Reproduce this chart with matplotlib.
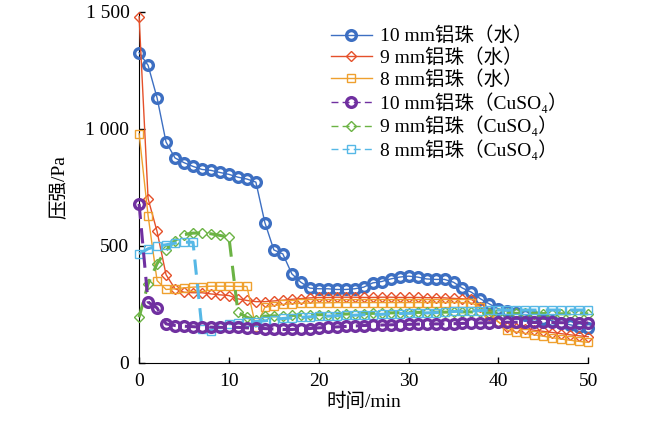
import matplotlib
matplotlib.use("Agg")
import matplotlib.pyplot as plt
from matplotlib.ticker import FuncFormatter

plt.rcParams['font.family'] = ['Liberation Serif', 'Noto Sans CJK SC', 'DejaVu Serif']

# time in minutes
t = list(range(0, 51))

# 10 mm aluminium beads, water
p10_water = [1326, 1272, 1133, 944, 876, 856, 840, 827, 823, 814,
             806, 794, 786, 773, 600, 483, 466, 381, 345, 320,
             317, 317, 314, 314, 317, 324, 342, 348, 359, 367,
             371, 367, 359, 357, 357, 345, 320, 302, 274, 252,
             231, 222, 214, 205, 196, 188, 180, 172, 163, 155, 148]
# 9 mm, water
p9_water = [1480, 702, 562, 377, 317, 302, 300, 300, 295, 291,
            288, 274, 267, 262, 262, 265, 268, 272, 275, 278,
            280, 280, 281, 281, 281, 280, 280, 281, 281, 280,
            280, 280, 279, 279, 278, 276, 274, 272, 240, 205,
            175, 155, 150, 145, 140, 135, 130, 125, 120, 116, 112]
# 8 mm, water
p8_water = [980, 630, 352, 314, 317, 321, 324, 326, 328, 328,
            328, 327, 327, 153, 238, 245, 250, 253, 255, 256,
            257, 257, 258, 258, 258, 258, 258, 258, 258, 258,
            258, 258, 258, 258, 258, 258, 258, 256, 240, 205,
            175, 140, 132, 126, 120, 114, 108, 102, 97, 92, 88]
# 10 mm, CuSO4
p10_cuso4 = [680, 260, 235, 167, 160, 157, 155, 153, 153, 152,
             152, 152, 150, 148, 147, 145, 143, 143, 145, 147,
             150, 152, 154, 156, 158, 160, 161, 162, 163, 164,
             165, 166, 166, 167, 167, 168, 169, 170, 171, 172,
             173, 174, 174, 174, 173, 173, 173, 172, 172, 172, 171]
# 9 mm, CuSO4
p9_cuso4 = [195, 338, 424, 481, 523, 548, 555, 555, 552, 545,
            538, 217, 195, 185, 200, 201, 202, 203, 204, 205,
            206, 207, 208, 209, 210, 211, 212, 213, 214, 214,
            215, 216, 216, 217, 217, 218, 218, 218, 216, 214,
            213, 212, 212, 212, 211, 211, 211, 210, 210, 210, 210]
# 8 mm, CuSO4
p8_cuso4 = [466, 488, 499, 505, 512, 516, 516, 146, 138, 160,
            167, 171, 174, 177, 180, 185, 190, 193, 195, 197,
            199, 200, 202, 203, 204, 206, 207, 208, 210, 211,
            212, 213, 214, 215, 217, 220, 221, 222, 224, 225,
            226, 226, 226, 226, 226, 226, 226, 226, 226, 226, 226]

labels = ['10 mm铝珠（水）', '9 mm铝珠（水）', '8 mm铝珠（水）',
          '10 mm铝珠（CuSO₄）', '9 mm铝珠（CuSO₄）', '8 mm铝珠（CuSO₄）']

fig = plt.figure(figsize=(6.5, 4.28), dpi=100)
ax = fig.add_axes([0.214, 0.152, 0.691, 0.82])

# water series: thin solid lines
ax.plot(t, p10_water, color='#3D6FC2', lw=1.0, marker='o', ms=7, mew=2.4,
        mfc='none', label=labels[0], clip_on=False, zorder=3)
ax.plot(t, p9_water, color='#E5502A', lw=1.0, marker='D', ms=5.5, mew=1.0,
        mfc='none', label=labels[1], clip_on=False, zorder=3)
ax.plot(t, p8_water, color='#EFA02E', lw=1.0, marker='s', ms=6, mew=1.0,
        mfc='none', label=labels[2], clip_on=False, zorder=3)

# CuSO4 series: thick dashed lines
ax.plot(t, p10_cuso4, color='#7030A0', lw=2.2, ls=(0, (5, 3)), marker='o', ms=7,
        mew=2.4, mfc='none', label=labels[3], clip_on=False, zorder=4)
ax.plot(t, p9_cuso4, color='#6BB344', lw=2.2, ls=(0, (5, 3)), marker='D', ms=5.5,
        mew=1.0, mfc='none', label=labels[4], clip_on=False, zorder=3)
ax.plot(t, p8_cuso4, color='#56B8E6', lw=2.2, ls=(0, (5, 3)), marker='s', ms=6,
        mew=1.0, mfc='none', label=labels[5], clip_on=False, zorder=3)

ax.set_xlim(0, 50)
ax.set_ylim(0, 1500)
ax.set_xticks([0, 10, 20, 30, 40, 50])
ax.set_yticks([0, 500, 1000, 1500])
ax.yaxis.set_major_formatter(FuncFormatter(lambda v, pos: f'{int(v):,}'.replace(',', ' ')))
ax.tick_params(direction='in', length=4, width=1, labelsize=14, pad=7)
ax.spines['top'].set_visible(False)
ax.spines['right'].set_visible(False)

ax.set_xlabel('时间/min', fontsize=14, labelpad=2)
ax.set_ylabel('压强/Pa', fontsize=14, labelpad=12)

leg = ax.legend(loc='upper left', bbox_to_anchor=(0.41, 0.98), frameon=False,
                fontsize=14, handlelength=2.1, labelspacing=0.16, borderaxespad=0.0,
                handletextpad=0.4)
for h in leg.get_lines():
    h.set_linewidth(1.0)

fig.savefig('out.png', dpi=100)
